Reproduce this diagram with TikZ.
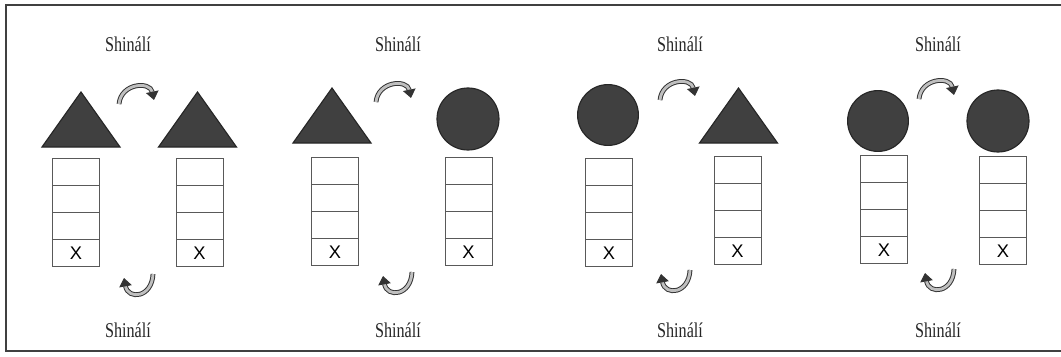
\documentclass[tikz,border=0pt]{standalone}
\usepackage{fontspec}
\setmainfont{Liberation Serif}
\setsansfont{Liberation Sans}
\usetikzlibrary{positioning, arrows.meta}

\begin{document}
\begin{tikzpicture}[x=0.025cm, y=-0.025cm,
					word/.style={text=black!85, font=\fontsize{11.5}{13}\selectfont},
					cell/.style={draw=black!65, line width=0.6pt, minimum width=1.175cm,
						minimum height=0.68cm, inner sep=0pt, outer sep=0pt,
						font=\sffamily\fontsize{13}{13}\selectfont},
					piece/.style={draw=black!85, fill=black!75, line width=0.8pt},
					turnarrow/.style={draw=black!80, line width=0.7pt, double=black!25,
						double distance=2pt, -{Triangle[length=6pt, width=9pt]}}]

	\useasboundingbox (0,0) rectangle (1061,356);
	\draw[black!75, line width=1.6pt] (1061,5) -- (6,5) -- (6,351) -- (1061,351);

	% words above and below every pair
	\foreach \p/\x in {1/128, 2/398, 3/680, 4/938} {
		\node[word] (top\p) at (\x,44) {\scalebox{1}[1.3]{Shinálí}};
		\node[word] (bot\p) at (\x,330) {\scalebox{1}[1.3]{Shinálí}};
	}

	% triangles
	\foreach \x/\y in {81/92, 197.5/92, 332/88, 738.5/88}
		\filldraw[piece] (\x,\y) -- ++(39,55) -- ++(-78,0) -- cycle;

	% discs
	\node[piece, circle, inner sep=0pt, minimum size=1.55cm] (d2) at (468,119) {};
	\node[piece, circle, inner sep=0pt, minimum size=1.52cm] (d3) at (608,115) {};
	\node[piece, circle, inner sep=0pt, minimum size=1.52cm] (d4a) at (878,121) {};
	\node[piece, circle, inner sep=0pt, minimum size=1.55cm] (d4b) at (998,121) {};

	% stacks of four cells, X in the lowest one
	\foreach \s/\x/\y in {1/76/158, 2/199.5/158, 3/335/157, 4/468.5/157,
						5/609/158, 6/737.5/156, 7/884/155, 8/1003/156} {
		\node[cell, anchor=north] (s\s-1) at (\x,\y) {};
		\node[cell, below=0pt of s\s-1] (s\s-2) {};
		\node[cell, below=0pt of s\s-2] (s\s-3) {};
		\node[cell, below=0pt of s\s-3] (s\s-4) {X};
	}

	% turning arrows
	\foreach \p/\x/\u/\b in {1/137/87/138, 2/394/85/397, 3/678/83/675, 4/937/82/939} {
		\coordinate (ta\p) at (\x-18,\u+17);
		\coordinate (tb\p) at (\x+17,\u+13);
		\draw[turnarrow] (ta\p) .. controls +(2,-21) and +(-4,-19) .. (tb\p);
		\coordinate (ba\p) at (\b+15,\u+187);
		\coordinate (bb\p) at (\b-14,\u+191);
		\draw[turnarrow] (ba\p) .. controls +(-1,24) and +(4,22) .. (bb\p);
	}
\end{tikzpicture}
\end{document}
